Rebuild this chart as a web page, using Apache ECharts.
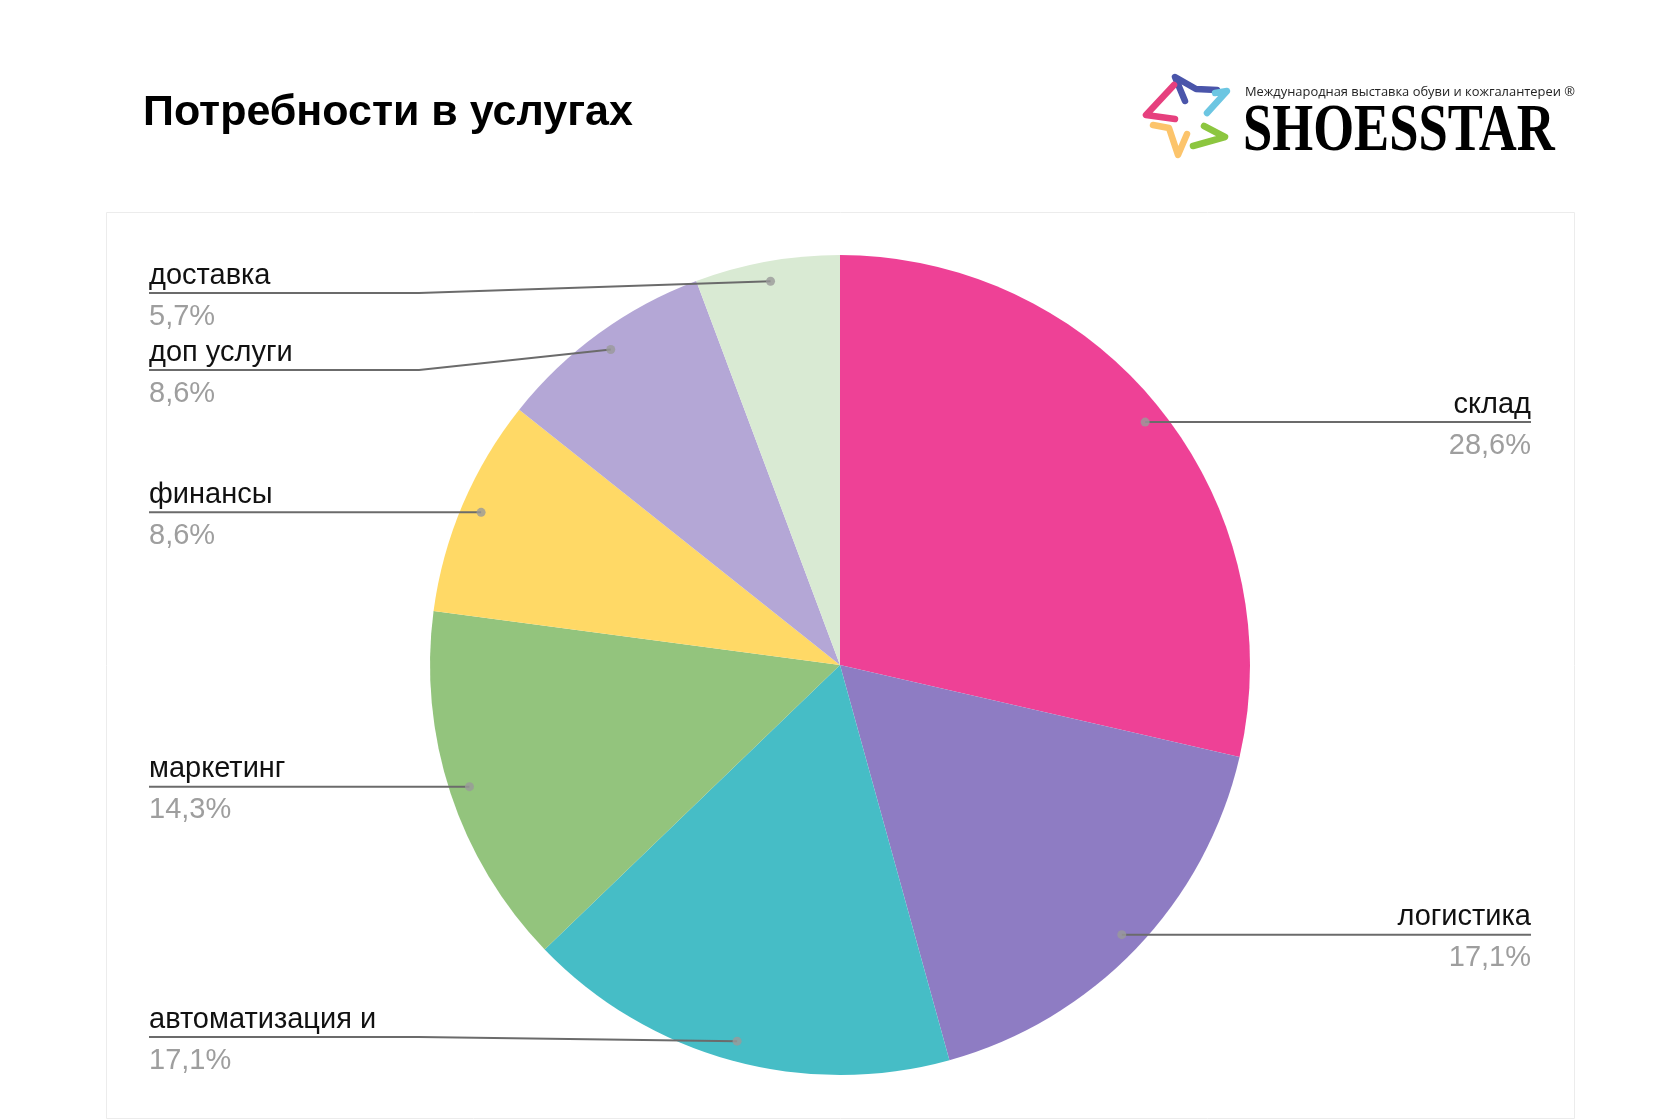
<!DOCTYPE html>
<html><head><meta charset="utf-8">
<script src="https://cdn.jsdelivr.net/npm/echarts@6/dist/echarts.min.js"></script>
<style>html,body{margin:0;padding:0;background:#fff}#chart{width:1680px;height:1120px}</style>
</head><body><div id="chart"></div>
<script>
// ---- data ----
const titleText = 'Потребности в услугах';
const categories = ['склад', 'логистика', 'автоматизация и', 'маркетинг', 'финансы', 'доп услуги', 'доставка'];
const values = [28.6, 17.1, 17.1, 14.3, 8.6, 8.6, 5.7];
const colors = ['#ee4196', '#8e7cc3', '#46bdc6', '#93c47d', '#ffd966', '#b4a7d6', '#d9ead3'];
const logoSubtitle = 'Международная выставка обуви и кожгалантереи ®';
const logoName = 'SHOESSTAR';

// ---- build ----
const total = values.reduce((a, b) => a + b, 0);
const pieData = categories.map((c, i) => ({ name: c, value: values[i], itemStyle: { color: colors[i] } }));
const labelData = categories.map((c, i) => ({ name: c, value: values[i] }));
let acc = 0;
const mids = values.map(v => { const m = acc + v / 2; acc += v; return m; });
const dotData = mids.map(m => [1, m]);

const CENTER = [840, 665];
const R = 410;
const R_DOT = 390;
const FONT = '"Liberation Sans", Arial, sans-serif';
const LABEL_GAP = 77, LABEL_MIN_Y = 293, LABEL_MAX_Y = 1037;

// label vertical placement (leader lines start at the dot, labels kept apart)
const dotY = mids.map(m => CENTER[1] - R_DOT * Math.cos(2 * Math.PI * m / total));
const isLeftIdx = mids.map(m => Math.sin(2 * Math.PI * m / total) < 0);
const labelY = dotY.slice();
[true, false].forEach(side => {
  const idx = mids.map((m, i) => i).filter(i => isLeftIdx[i] === side).sort((a, b) => dotY[a] - dotY[b]);
  let prev = -Infinity;
  idx.forEach(i => { labelY[i] = Math.max(dotY[i], prev + LABEL_GAP, side ? LABEL_MIN_Y : -Infinity); prev = labelY[i]; });
  if (side && idx.length) { const last = idx[idx.length - 1]; labelY[last] = Math.min(labelY[last], LABEL_MAX_Y); }
});

function fmtPct(v) { return v.toFixed(1).replace('.', ',') + '%'; }

const starStrokes = [
  { pts: [[1185, 101], [1175, 77], [1196, 89], [1217, 90]], color: '#4a55aa' },
  { pts: [[1215, 93], [1227, 91], [1207, 113]], color: '#6cc6e2' },
  { pts: [[1204, 126], [1225, 137], [1193, 146]], color: '#8cc63f' },
  { pts: [[1153, 125], [1169, 128], [1178, 155], [1187, 134]], color: '#fcc46b' },
  { pts: [[1174, 85], [1146, 115], [1175, 119]], color: '#e6407e' }
];

const chart = echarts.init(document.getElementById('chart'), null, { renderer: 'canvas' });
chart.setOption({
  animation: false,
  backgroundColor: '#ffffff',
  title: {
    text: titleText, left: 138, top: 87,
    textStyle: { fontSize: 43, fontWeight: 'bold', color: '#000', fontFamily: FONT }
  },
  graphic: [
    { type: 'rect', shape: { x: 106.5, y: 212.5, width: 1468, height: 906 }, style: { fill: 'none', stroke: '#ececec', lineWidth: 1 }, z: -10, silent: true },
    ...starStrokes.map(s => ({ type: 'polyline', shape: { points: s.pts }, style: { stroke: s.color, lineWidth: 6.5, lineCap: 'round', lineJoin: 'round', fill: 'none' }, silent: true })),
    { type: 'text', x: 1245, y: 86, style: { text: logoSubtitle, font: '12.9px "Open Sans", sans-serif', fill: '#222' }, silent: true },
    { type: 'text', x: 1243, y: 99, scaleX: 0.785, style: { text: logoName, font: 'bold 67px "Liberation Serif", serif', fill: '#000' }, silent: true }
  ],
  polar: { center: CENTER, radius: R_DOT },
  angleAxis: { type: 'value', min: 0, max: total, startAngle: 90, clockwise: true, show: false },
  radiusAxis: { type: 'value', min: 0, max: 1, show: false },
  series: [
    {
      type: 'pie', center: CENTER, radius: R, startAngle: 90, clockwise: true,
      left: 0, top: 0, right: 0, bottom: 0,
      data: pieData, label: { show: false }, labelLine: { show: false },
      itemStyle: { borderWidth: 0 }, silent: true, z: 1
    },
    {
      type: 'pie', center: CENTER, radius: R_DOT, startAngle: 90, clockwise: true,
      left: 0, top: 0, right: 0, bottom: 0, avoidLabelOverlap: false,
      data: labelData, silent: true, z: 2,
      itemStyle: { color: 'rgba(0,0,0,0)', borderWidth: 0 },
      label: {
        show: true, position: 'outside', alignTo: 'edge', edgeDistance: 149,
        formatter: p => '{n|' + p.name + '}\n{p|' + fmtPct(p.value) + '}',
        rich: {
          n: { fontSize: 29, lineHeight: 47, color: '#111', fontFamily: FONT },
          p: { fontSize: 29, lineHeight: 35, color: '#9e9e9e', fontFamily: FONT }
        }
      },
      labelLine: { show: true, length: 0, length2: 0, lineStyle: { color: '#6b6b6b', width: 2 } },
      labelLayout: function (p) {
        const pts = p.labelLinePoints;
        if (!pts) return {};
        const r = p.labelRect;
        const y = labelY[p.dataIndex];
        const isLeft = isLeftIdx[p.dataIndex];
        const far = isLeft ? r.x : r.x + r.width;
        const bend = isLeft ? Math.min(pts[0][0], far + 270) : Math.max(pts[0][0], far - 270);
        return { y: y, labelLinePoints: [pts[0], [bend, y], [far, y]] };
      }
    },
    {
      type: 'scatter', coordinateSystem: 'polar', data: dotData,
      symbol: 'circle', symbolSize: 9, itemStyle: { color: '#9a9a9a' }, silent: true, z: 5
    }
  ]
});
</script></body></html>
